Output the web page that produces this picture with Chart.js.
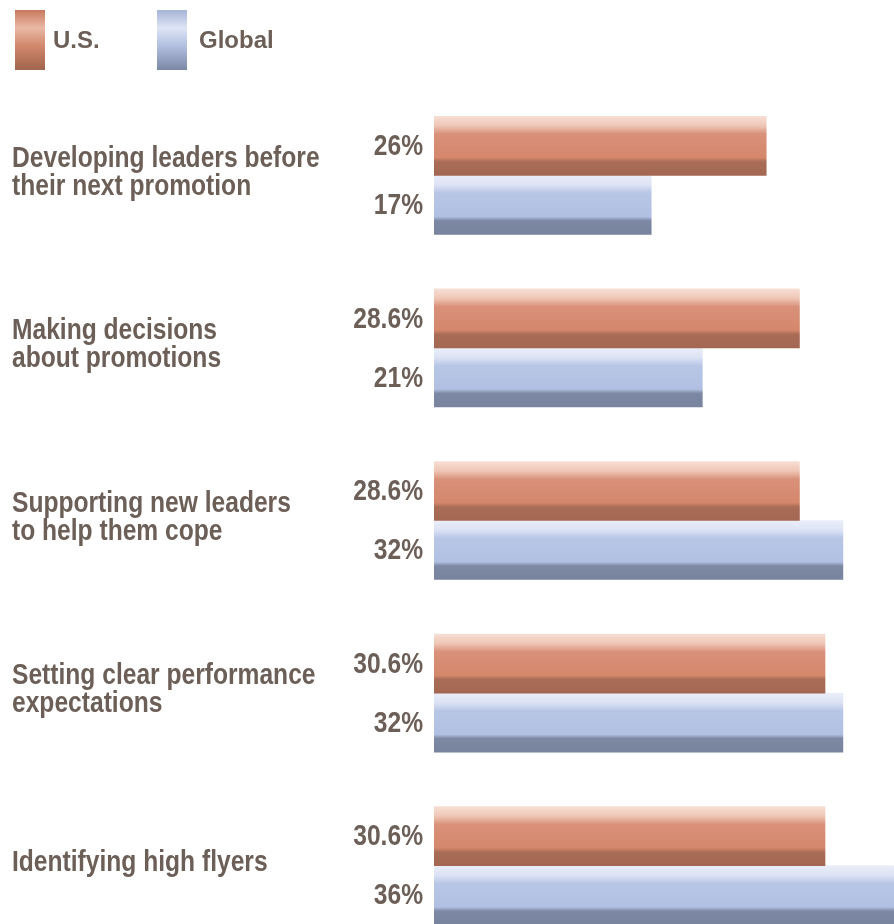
<!DOCTYPE html>
<html>
<head>
<meta charset="utf-8">
<script src="https://cdn.jsdelivr.net/npm/chart.js@4.4.1/dist/chart.umd.min.js"></script>
<style>
  html, body { margin: 0; padding: 0; background: #ffffff; overflow: hidden; }
  #wrap { position: relative; width: 894px; height: 960px; }
</style>
</head>
<body>
<div id="wrap"><canvas id="c"></canvas></div>
<script>
// ---- data ----
const categories = [
  ['Developing leaders before', 'their next promotion'],
  ['Making decisions', 'about promotions'],
  ['Supporting new leaders', 'to help them cope'],
  ['Setting clear performance', 'expectations'],
  'Identifying high flyers'
];
const seriesNames = ['U.S.', 'Global'];
const usValues = [26, 28.6, 28.6, 30.6, 30.6];
const globalValues = [17, 21, 32, 32, 36];

// ---- styling ----
const TEXT = '#6c5f58';
const SANS = '"Liberation Sans", Arial, sans-serif';
const CONDENSE = 0.82;
const BAR_T = 59;

const barStops = [
  [[0, '#f6ded4'], [0.16, '#efc6b5'], [0.3, '#d9917a'], [0.7, '#d4876b'], [0.77, '#a96c57'], [1, '#a36752']],
  [[0, '#eaeef9'], [0.16, '#dde3f5'], [0.3, '#b8c6e6'], [0.7, '#b1c0e2'], [0.77, '#7d89a4'], [1, '#78839d']]
];
const legendStops = [
  [[0, '#c9785d'], [0.3, '#e9b9a5'], [0.6, '#d1876b'], [1, '#a1644e']],
  [[0, '#a5b3d6'], [0.3, '#dfe5f5'], [0.6, '#b2bfdf'], [1, '#7b87a4']]
];

function barGradient(ctx) {
  const chart = ctx.chart;
  const ds = ctx.datasetIndex;
  const fallback = barStops[ds][3][1];
  const yScale = chart.scales && chart.scales.y;
  if (!chart.chartArea || !yScale || ctx.dataIndex === undefined) return fallback;
  const center = yScale.getPixelForValue(ctx.dataIndex);
  const top = ds === 0 ? center - BAR_T : center;
  const g = chart.ctx.createLinearGradient(0, top, 0, top + BAR_T);
  barStops[ds].forEach(s => g.addColorStop(s[0], s[1]));
  return g;
}

// draw condensed text (real text, horizontally compressed like the original narrow typeface)
function condensedText(c, str, x, y, align) {
  c.save();
  c.translate(x, y);
  c.scale(CONDENSE, 1);
  c.textAlign = align;
  c.fillText(str, 0, 0);
  c.restore();
}

const textLabels = {
  id: 'textLabels',
  afterDatasetsDraw(chart) {
    const c = chart.ctx;
    const yScale = chart.scales.y;
    c.save();
    c.font = 'bold 30px ' + SANS;
    c.fillStyle = TEXT;
    c.textBaseline = 'middle';
    // value labels
    chart.data.datasets.forEach((ds, di) => {
      chart.getDatasetMeta(di).data.forEach((el, i) => {
        condensedText(c, ds.data[i] + '%', chart.chartArea.left - 11, el.y + 1, 'right');
      });
    });
    // category labels
    chart.data.labels.forEach((lab, i) => {
      const lines = Array.isArray(lab) ? lab : [lab];
      const cy = yScale.getPixelForValue(i) - 3;
      const lh = 28;
      lines.forEach((ln, k) => {
        const y = cy + (k - (lines.length - 1) / 2) * lh;
        condensedText(c, ln, 12, y, 'left');
      });
    });
    c.restore();
  }
};

const customLegend = {
  id: 'customLegend',
  afterDraw(chart) {
    const c = chart.ctx;
    const boxX = [15, 157];
    const textX = [53, 199];
    c.save();
    chart.data.datasets.forEach((ds, di) => {
      const x = boxX[di], y = 10, w = 30, h = 60;
      const g = c.createLinearGradient(0, y, 0, y + h);
      legendStops[di].forEach(s => g.addColorStop(s[0], s[1]));
      c.fillStyle = g;
      c.fillRect(x, y, w, h);
      c.font = 'bold 24px ' + SANS;
      c.fillStyle = TEXT;
      c.textAlign = 'left';
      c.textBaseline = 'middle';
      c.fillText(ds.label, textX[di], 41);
    });
    c.restore();
  }
};

new Chart(document.getElementById('c'), {
  type: 'bar',
  data: {
    labels: categories,
    datasets: [
      { label: seriesNames[0], data: usValues, backgroundColor: barGradient, barThickness: BAR_T, borderWidth: 0 },
      { label: seriesNames[1], data: globalValues, backgroundColor: barGradient, barThickness: BAR_T, borderWidth: 0 }
    ]
  },
  options: {
    indexAxis: 'y',
    responsive: true,
    maintainAspectRatio: false,
    animation: false,
    layout: { padding: { top: 89, left: 12, right: 0, bottom: 8 } },
    plugins: {
      legend: { display: false },
      tooltip: { enabled: false }
    },
    scales: {
      x: { display: false, min: 0, max: 36 },
      y: {
        grid: { display: false, drawTicks: false },
        border: { display: false },
        afterFit(scale) { scale.width = 422; },
        ticks: { display: false }
      }
    }
  },
  plugins: [textLabels, customLegend]
});
</script>
</body>
</html>
